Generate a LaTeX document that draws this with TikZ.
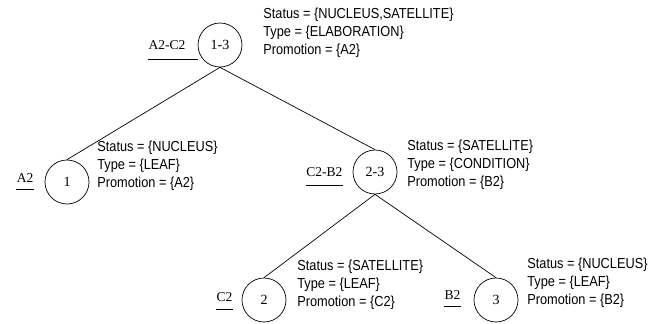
\documentclass[tikz,border=0pt]{standalone}
\usepackage{fontspec}
\setmainfont{Liberation Serif}
\newfontfamily\attrfont[FakeStretch=0.88]{Liberation Sans}
\usetikzlibrary{positioning}
\tikzset{
  unit/.style = {circle, draw, minimum size=44pt, inner sep=0pt, font=\fontsize{14}{16}\selectfont},
  span/.style = {inner sep=0pt, font=\fontsize{13.5}{15}\selectfont},
  attr/.style = {anchor=west, align=left, inner sep=0pt, font=\attrfont\fontsize{14.5}{18}\selectfont},
}
\begin{document}
\begin{tikzpicture} [x=1pt, y=-1pt, line width=0.7pt]
	\useasboundingbox (0,0) rectangle (649,324);
	% tree nodes
	\node [unit] (n13) at (220,45) {1-3};
	\node [unit] (n1) at (67,182) {1};
	\node [unit] (n23) at (375,172) {2-3};
	\node [unit] (n2) at (264,300) {2};
	\node [unit] (n3) at (496,300) {3};
	% connectors
	\draw (n13.south) -- (n1.north);
	\draw (n13.south) -- (n23.north);
	\draw (n23.south) -- (n2.north);
	\draw (n23.south) -- (n3.north);
	% spans, underlined
	\node [span, left=12pt of n13] (sAC) {A2-C2};
	\node [span, left=11pt of n1, yshift=4pt] (sA) {A2};
	\node [span, left=10pt of n23] (sCB) {C2-B2};
	\node [span, left=9pt of n2, yshift=3pt] (sC) {C2};
	\node [span, left=13pt of n3, yshift=5pt] (sB) {B2};
	\coordinate (acend) at (n13.west |- sAC.south);
	\draw ([yshift=-9pt]sAC.south west) -- ([yshift=-9pt]acend);
	\draw ([yshift=-7pt]sA.south west) -- ([yshift=-7pt]sA.south east);
	\draw ([yshift=-8pt]sCB.south west) -- ([yshift=-8pt]sCB.south east);
	\draw ([yshift=-7pt]sC.south west) -- ([yshift=-7pt]sC.south east);
	\draw ([yshift=-7pt]sB.south west) -- ([yshift=-7pt]sB.south east);
	% features
	\node [attr] (f13) at (263,33) {Status = \{NUCLEUS,SATELLITE\}\\Type = \{ELABORATION\}\\Promotion = \{A2\}};
	\node [attr] (f1) at (97,166) {Status = \{NUCLEUS\}\\Type = \{LEAF\}\\Promotion = \{A2\}};
	\node [attr] (f23) at (407,165) {Status = \{SATELLITE\}\\Type = \{CONDITION\}\\Promotion = \{B2\}};
	\node [attr] (f2) at (297,285) {Status = \{SATELLITE\}\\Type = \{LEAF\}\\Promotion = \{C2\}};
	\node [attr] (f3) at (527,283) {Status = \{NUCLEUS\}\\Type = \{LEAF\}\\Promotion = \{B2\}};
\end{tikzpicture}
\end{document}
